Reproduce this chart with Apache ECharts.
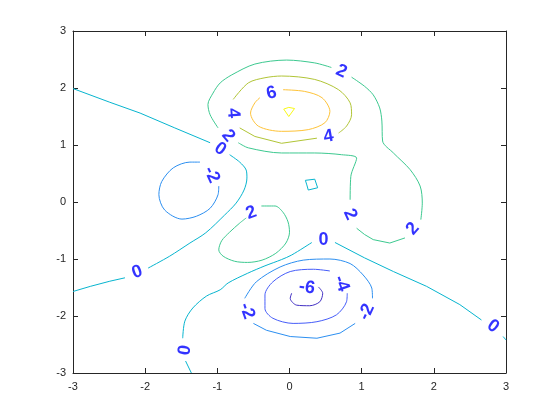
<!DOCTYPE html>
<html>
<head>
<meta charset="utf-8">
<title>peaks contour</title>
<script src="https://cdn.jsdelivr.net/npm/echarts@6/dist/echarts.min.js"></script>
<style>
  html, body { margin: 0; padding: 0; background: #fff; }
  #chart { width: 560px; height: 420px; }
</style>
</head>
<body>
<div id="chart"></div>
<script>
// contour lines, in data units; each inner array is one
// stretch of line (breaks are where MATLAB put a label)
const levelZeroWest = [
  [[-3, 1.99], [-2.49, 1.75], [-2.07, 1.56], [-1.59, 1.30], [-1.10, 1.04]],
  [[-0.83, 0.83], [-0.69, 0.70], [-0.60, 0.56], [-0.59, 0.42], [-0.63, 0.21], [-0.74, -0.02],
   [-0.90, -0.23], [-1.16, -0.54], [-1.38, -0.72], [-1.66, -0.95], [-1.96, -1.16]],
  [[-2.28, -1.33], [-2.49, -1.39], [-2.76, -1.48], [-3, -1.57]]
]
const levelZeroSouth = [
  [[-1.36, -3.0], [-1.44, -2.79]],
  [[-1.48, -2.39], [-1.45, -2.09], [-1.34, -1.86], [-1.15, -1.65], [-0.96, -1.54], [-0.85, -1.42],
   [-0.58, -1.25], [-0.34, -1.12], [-0.11, -1.01], [0.03, -0.93], [0.31, -0.71]],
  [[0.63, -0.71], [1.04, -0.98], [1.44, -1.22], [1.90, -1.48], [2.36, -1.80], [2.66, -2.07]],
  [[2.96, -2.36], [3.0, -2.42]]
]
const levelZeroBump = [
  [[0.22, 0.38], [0.35, 0.40], [0.39, 0.25], [0.26, 0.21], [0.24, 0.30], [0.22, 0.38]]
]
const levelTwoNorth = [
  [[-0.99, 1.30], [-1.10, 1.53], [-1.13, 1.71], [-1.06, 1.91], [-0.96, 2.09], [-0.80, 2.23],
   [-0.48, 2.42], [-0.04, 2.49], [0.35, 2.44], [0.58, 2.36]],
  [[0.86, 2.19], [1.04, 2.03], [1.16, 1.88], [1.25, 1.65], [1.28, 1.42], [1.29, 1.07], [1.44, 0.86],
   [1.67, 0.57], [1.81, 0.28], [1.84, -0.02], [1.82, -0.31]],
  [[1.60, -0.63], [1.39, -0.72], [1.16, -0.66], [1.04, -0.57], [0.93, -0.46]],
  [[0.84, 0.04], [0.85, 0.45], [0.93, 0.77], [0.72, 0.83], [0.35, 0.86], [-0.11, 0.86],
   [-0.57, 0.95], [-0.71, 1.04]]
]
const levelTwoSouth = [
  [[-0.39, -0.07], [-0.20, -0.07], [-0.09, -0.18], [-0.02, -0.35], [0.00, -0.53], [-0.05, -0.72],
   [-0.19, -0.90], [-0.38, -1.02], [-0.58, -1.06], [-0.76, -1.04], [-0.92, -0.95], [-0.98, -0.84],
   [-0.94, -0.68], [-0.83, -0.53], [-0.69, -0.37], [-0.60, -0.28]]
]
const levelFour = [
  [[-0.78, 1.80], [-0.57, 2.09], [-0.34, 2.18], [-0.11, 2.21], [0.35, 2.15], [0.68, 1.97],
   [0.84, 1.74], [0.86, 1.53], [0.79, 1.33], [0.68, 1.21]],
  [[0.38, 1.12], [-0.11, 1.03], [-0.48, 1.15], [-0.69, 1.30]]
]
const levelSix = [
  [[-0.09, 1.97], [0.21, 1.94], [0.45, 1.83], [0.56, 1.59], [0.49, 1.39], [0.26, 1.27],
   [-0.11, 1.24], [-0.43, 1.33], [-0.54, 1.56], [-0.48, 1.74], [-0.41, 1.83]]
]
const levelEight = [
  [[-0.08, 1.63], [-0.01, 1.66], [0.07, 1.64], [-0.01, 1.50], [-0.08, 1.63]]
]
const levelMinusTwoWest = [
  [[-1.24, 0.70], [-1.38, 0.70], [-1.61, 0.60], [-1.77, 0.36], [-1.81, 0.13], [-1.73, -0.14],
   [-1.49, -0.30], [-1.29, -0.25], [-1.10, -0.11], [-0.99, 0.13], [-0.98, 0.28]]
]
const levelMinusTwoSouth = [
  [[-0.62, -1.69], [-0.46, -1.40], [-0.13, -1.14], [0.19, -1.02], [0.56, -1.00], [0.84, -1.08],
   [1.02, -1.28], [1.14, -1.51], [1.15, -1.69]],
  [[0.91, -2.13], [0.70, -2.30], [0.38, -2.39], [0.01, -2.36], [-0.32, -2.25], [-0.50, -2.13]]
]
const levelMinusFour = [
  [[0.56, -1.21], [0.33, -1.18], [0.01, -1.22], [-0.23, -1.40], [-0.34, -1.63], [-0.34, -1.87],
   [-0.23, -2.04], [0.05, -2.13], [0.38, -2.10], [0.65, -1.98], [0.79, -1.75], [0.80, -1.60]]
]
const levelMinusSix = [
  [[0.40, -1.49], [0.46, -1.60], [0.42, -1.75], [0.28, -1.82], [0.10, -1.81], [0.01, -1.69], [0.03, -1.60]]
]

const labelText = ['0', '2', '4', '6', '2', '4', '-2', '2', '2', '0', '2', '0', '0', '0', '-6', '-4', '-2', '-2']
const labelPos = [
  [-0.96, 0.93], [-0.85, 1.16], [-0.78, 1.56], [-0.25, 1.91], [0.72, 2.29], [0.54, 1.15],
  [-1.08, 0.48], [-0.53, -0.19], [0.84, -0.22], [0.47, -0.66], [1.71, -0.47], [-2.11, -1.23],
  [-1.45, -2.60], [2.82, -2.18], [0.24, -1.50], [0.72, -1.43], [-0.59, -1.91], [1.07, -1.93]
]
const labelAngle = [-35, -50, -85, 15, -25, 10, -65, 20, -65, 0, 49, 20, 80, -37, -8, -70, -70, 65]

const tickValues = [-3, -2, -1, 0, 1, 2, 3]

// parula colours for levels -6 .. 8
const levelColor = {
  '-6': '#4230c4', '-4': '#465df9', '-2': '#2c8ff1', '0': '#07b5cf',
  '2': '#3dc990', '4': '#b1c536', '6': '#fec338', '8': '#f8f917'
}

const contours = [
  { level: 0, segments: levelZeroWest },
  { level: 0, segments: levelZeroSouth },
  { level: 0, segments: levelZeroBump },
  { level: 2, segments: levelTwoNorth },
  { level: 2, segments: levelTwoSouth },
  { level: 4, segments: levelFour },
  { level: 6, segments: levelSix },
  { level: 8, segments: levelEight },
  { level: -2, segments: levelMinusTwoWest },
  { level: -2, segments: levelMinusTwoSouth },
  { level: -4, segments: levelMinusFour },
  { level: -6, segments: levelMinusSix }
]

const chart = echarts.init(document.getElementById('chart'))

const axisColor = '#262626'
const font = 'Liberation Sans, Arial, Helvetica, sans-serif'

const series = []
contours.forEach(c => {
  c.segments.forEach(seg => {
    series.push({
      type: 'line',
      data: seg,
      showSymbol: false,
      smooth: seg.length > 6 ? 0.3 : 0,
      lineStyle: { color: levelColor[String(c.level)], width: 1 },
      silent: true,
      z: 2
    })
  })
})

series.push({
  type: 'scatter',
  symbolSize: 1,
  itemStyle: { color: 'rgba(0,0,0,0)' },
  silent: true,
  z: 5,
  data: labelPos.map((p, i) => ({
    name: labelText[i],
    value: p,
    label: { rotate: labelAngle[i] }
  })),
  label: {
    show: true,
    position: 'inside',
    formatter: '{b}',
    color: '#0000ff',
    fontSize: 18,
    fontWeight: 'bold',
    fontFamily: font,
    align: 'center',
    verticalAlign: 'middle'
  }
})

const baseAxis = {
  type: 'value',
  min: tickValues[0],
  max: tickValues[tickValues.length - 1],
  interval: 1,
  splitLine: { show: false },
  axisLine: { show: true, onZero: false, lineStyle: { color: axisColor, width: 1 } },
  axisTick: { show: true, inside: true, length: 5, lineStyle: { color: axisColor } }
}

const option = {
  animation: false,
  backgroundColor: '#fff',
  grid: { left: 73, right: 54, top: 31, bottom: 47 },
  xAxis: [
    Object.assign({}, baseAxis, {
      position: 'bottom',
      axisLabel: { color: axisColor, fontSize: 11, margin: 8, fontFamily: font }
    }),
    Object.assign({}, baseAxis, { position: 'top', axisLabel: { show: false } })
  ],
  yAxis: [
    Object.assign({}, baseAxis, {
      position: 'left',
      axisLabel: { color: axisColor, fontSize: 11, margin: 7, fontFamily: font }
    }),
    Object.assign({}, baseAxis, { position: 'right', axisLabel: { show: false } })
  ],
  series: series
}

chart.setOption(option)
</script>
</body>
</html>
